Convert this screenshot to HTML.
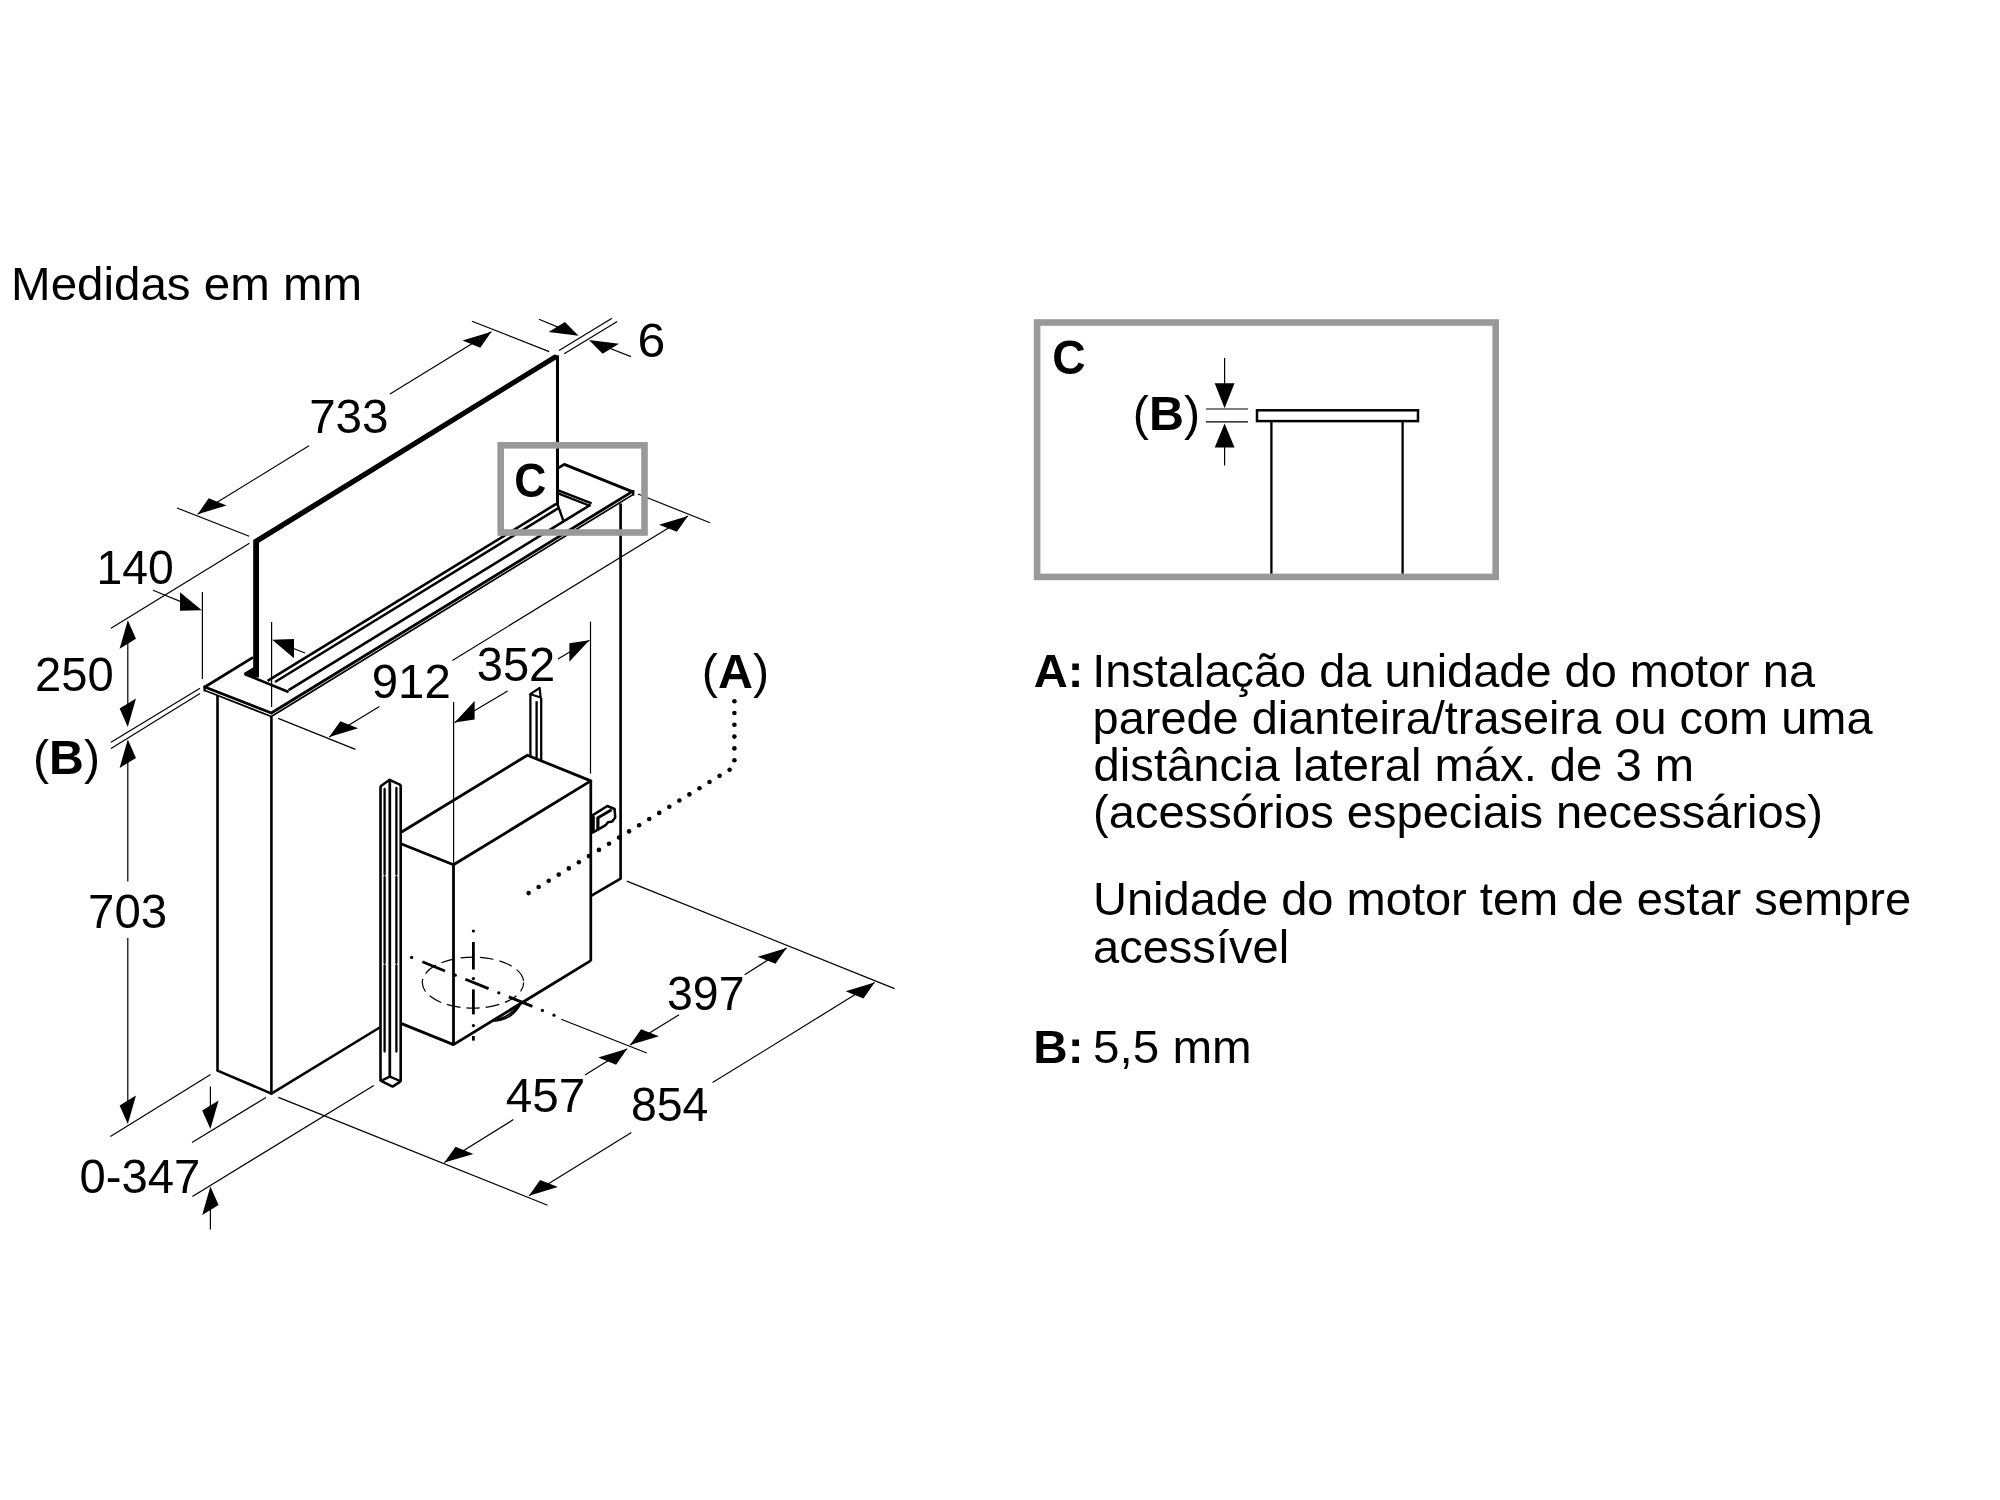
<!DOCTYPE html>
<html><head><meta charset="utf-8"><title>Medidas em mm</title>
<style>
html,body{margin:0;padding:0;background:#fff;}
body{width:2000px;height:1500px;overflow:hidden;font-family:"Liberation Sans",sans-serif;}
svg{display:block;position:absolute;left:0;top:0;}
svg{will-change:transform;}
</style></head><body>
<svg width="2000" height="1500" viewBox="0 0 2000 1500">
<rect x="0" y="0" width="2000" height="1500" fill="#fff"/>
<g stroke="#000" fill="none" stroke-linecap="butt" stroke-linejoin="round">
<path d="M253.2 677.6 L253.2 540 L554.4 354.4 L559 355.4 L559 505.4 L556 505.4 L556 359.4 L259 542.8 L259 677.6 Z" fill="#000" stroke="none"/>
<line x1="557.4" y1="504" x2="563.4" y2="520.8" stroke-width="2.4"/>
<path d="M557.6 468.4 L564.3 464.4 L632.2 491.6" stroke-width="2.8" fill="none"/>
<path d="M253 657.4 L204.8 687 L271.3 713.01 L632.2 491.6" stroke-width="2.8" fill="none"/>
<path d="M205 690.5 L271.3 716.51 L633.4 494.36" stroke-width="1.7" fill="none"/>
<line x1="204.6" y1="685.6" x2="204.6" y2="691.4" stroke-width="2.4"/>
<line x1="633.2" y1="490" x2="633.2" y2="495.6" stroke-width="2.4"/>
<line x1="244.5" y1="674" x2="288.6" y2="691.9" stroke-width="2.7"/>
<line x1="244.5" y1="674" x2="254" y2="668.2" stroke-width="2.4"/>
<polygon points="247,673.6 254,669 254,677.8" fill="#000" stroke="none"/>
<line x1="267.6" y1="680.93" x2="556.2" y2="503.87" stroke-width="2.6"/>
<line x1="275" y1="681.95" x2="558" y2="508.33" stroke-width="2.5"/>
<line x1="288.6" y1="690.03" x2="590.6" y2="504.76" stroke-width="2.6"/>
<line x1="558.2" y1="490.4" x2="591.6" y2="503.4" stroke-width="2.4"/>
<line x1="558.2" y1="493.4" x2="590.4" y2="506" stroke-width="2.4"/>
<line x1="217.5" y1="695.5" x2="217.5" y2="1071.6" stroke-width="2.6"/>
<line x1="271.4" y1="717" x2="271.4" y2="1094.5" stroke-width="2.6"/>
<line x1="620.6" y1="503.5" x2="620.6" y2="879.6" stroke-width="2.7"/>
<path d="M217.5 1070.6 L271.4 1093.6 L380.5 1027" stroke-width="2.6" fill="none"/>
<line x1="620.6" y1="878.6" x2="591.5" y2="895.6" stroke-width="2.5"/>
<path d="M401.6 832 L527.4 755.2 L590.8 780.9 L453.5 864.8 L401.6 844" stroke-width="2.8" fill="none"/>
<line x1="590.8" y1="780.5" x2="590.8" y2="961" stroke-width="2.7"/>
<line x1="453.5" y1="864.8" x2="453.5" y2="1044.8" stroke-width="2.8"/>
<path d="M401.6 1023.6 L453.5 1044.6 L590.8 960.6" stroke-width="2.8" fill="none"/>
<line x1="530.4" y1="694" x2="530.4" y2="756.6" stroke-width="2.3"/>
<line x1="541.2" y1="697.6" x2="541.2" y2="760.6" stroke-width="2.3"/>
<line x1="536.6" y1="701.2" x2="536.6" y2="759" stroke-width="2.3"/>
<path d="M529.8 694.4 L539.7 688 L540.6 697.4" stroke-width="2.2" fill="none"/>
<line x1="529.8" y1="694" x2="541.4" y2="697.8" stroke-width="2.2"/>
<line x1="380.5" y1="786.2" x2="380.5" y2="1081.2" stroke-width="2.6"/>
<line x1="400.7" y1="784.8" x2="400.7" y2="1081.8" stroke-width="2.6"/>
<line x1="389.8" y1="780" x2="389.8" y2="1076.6" stroke-width="2.7"/>
<path d="M380.3 786.6 L389.6 779.8 L400.9 785.2" stroke-width="2.5" fill="none"/>
<line x1="384.6" y1="789" x2="384.6" y2="874.5" stroke-width="2.3" stroke-linecap="round"/>
<line x1="384.6" y1="877" x2="384.6" y2="963" stroke-width="2.3" stroke-linecap="round"/>
<line x1="384.6" y1="965.5" x2="384.6" y2="1051.5" stroke-width="2.3" stroke-linecap="round"/>
<line x1="396.4" y1="788" x2="396.4" y2="874.5" stroke-width="2.3" stroke-linecap="round"/>
<line x1="396.4" y1="877" x2="396.4" y2="963" stroke-width="2.3" stroke-linecap="round"/>
<line x1="396.4" y1="965.5" x2="396.4" y2="1051.5" stroke-width="2.3" stroke-linecap="round"/>
<path d="M380.5 1080.6 L392.6 1086.6 L400.7 1081.4" stroke-width="2.5" fill="none"/>
<path d="M381.4 1080.6 L389.8 1076.6 L400.2 1081" stroke-width="2.3" fill="none"/>
<path d="M592 815.6 L607.4 806 L614.6 809 L615.2 817.4 L612.2 821.6 L608 822.2 L605.6 825.2 L598.4 829.4 L592 833" stroke-width="2.5" fill="none"/>
<line x1="597.6" y1="818" x2="611.6" y2="809.8" stroke-width="3.0"/>
<line x1="597.9" y1="817" x2="597.9" y2="829.6" stroke-width="3.2"/>
<polygon points="590.8,814.5 594.8,816.2 594.8,831.6 590.8,834.6" fill="#000" stroke="none"/>
<path d="M492.8 1021.2 Q511 1020.5 520 1005 M497 1019.4 Q510 1016.4 517.6 1006.4" stroke-width="1.8"/>
<line x1="473.4" y1="942" x2="473.4" y2="969.5" stroke-width="2.8"/>
<line x1="473.4" y1="989.4" x2="473.4" y2="1014.4" stroke-width="2.8"/>
<line x1="473.4" y1="1036" x2="473.4" y2="1040.6" stroke-width="2.8"/>
<circle cx="473.4" cy="931" r="1.6" fill="#000" stroke="none"/>
<circle cx="473.4" cy="978.6" r="1.6" fill="#000" stroke="none"/>
<circle cx="473.4" cy="1025.6" r="1.6" fill="#000" stroke="none"/>
<line x1="422.3" y1="961.8" x2="445" y2="970.99" stroke-width="2.8"/>
<line x1="465.4" y1="979.26" x2="488.6" y2="988.65" stroke-width="2.8"/>
<line x1="508.8" y1="996.83" x2="532.4" y2="1006.39" stroke-width="2.8"/>
<circle cx="411.6" cy="957.47" r="1.6" fill="#000" stroke="none"/>
<circle cx="455.3" cy="975.16" r="1.6" fill="#000" stroke="none"/>
<circle cx="498.8" cy="992.78" r="1.6" fill="#000" stroke="none"/>
<circle cx="542.4" cy="1010.44" r="1.6" fill="#000" stroke="none"/>
<circle cx="554" cy="1015.14" r="1.6" fill="#000" stroke="none"/>
<ellipse cx="473" cy="982.6" rx="50.7" ry="25.5" stroke-width="1.2" stroke-dasharray="13.5 6" stroke-dashoffset="4"/>
</g>
<g stroke="#000" fill="none">
<line x1="177" y1="508" x2="249.2" y2="536.2" stroke-width="1.2"/>
<line x1="472" y1="321.2" x2="549.2" y2="351.6" stroke-width="1.2"/>
<line x1="197.6" y1="514.2" x2="309" y2="445.86" stroke-width="1.2"/>
<line x1="390" y1="394.01" x2="491.4" y2="331.8" stroke-width="1.2"/>
<polygon points="197.6,514.2 226.54,505.49 208.72,498.33" fill="#000" stroke="none"/>
<polygon points="491.4,331.8 480.28,347.67 462.46,340.51" fill="#000" stroke="none"/>
<line x1="559" y1="350.6" x2="612" y2="318.2" stroke-width="1.2"/>
<line x1="564.2" y1="353.8" x2="617.2" y2="321.4" stroke-width="1.2"/>
<line x1="539" y1="319.2" x2="570" y2="332.1" stroke-width="1.2"/>
<polygon points="578.6,335.7 564.98,321.91 548.61,331.95" fill="#000" stroke="none"/>
<line x1="600" y1="344.5" x2="631" y2="356.6" stroke-width="1.2"/>
<polygon points="589,339.9 618.99,343.65 602.62,353.69" fill="#000" stroke="none"/>
<line x1="202.4" y1="592" x2="202.4" y2="679" stroke-width="1.2"/>
<line x1="271.6" y1="622" x2="271.6" y2="707" stroke-width="1.2"/>
<line x1="153" y1="590.2" x2="190" y2="605.4" stroke-width="1.2"/>
<polygon points="201.8,610.2 180,610.73 180,592.13" fill="#000" stroke="none"/>
<line x1="285" y1="645.2" x2="305" y2="653" stroke-width="1.2"/>
<polygon points="272.2,639.8 294,658.17 294,638.97" fill="#000" stroke="none"/>
<line x1="111" y1="628.2" x2="249.4" y2="543.2" stroke-width="1.2"/>
<line x1="127.8" y1="625" x2="127.8" y2="722" stroke-width="1.2"/>
<polygon points="127.8,620.2 135.98,638.68 119.62,648.72" fill="#000" stroke="none"/>
<polygon points="127.8,727 135.98,698.48 119.62,708.52" fill="#000" stroke="none"/>
<line x1="111" y1="742.2" x2="200" y2="688.2" stroke-width="1.2"/>
<line x1="111" y1="748.4" x2="200" y2="693.6" stroke-width="1.2"/>
<polygon points="127.8,739.4 135.98,757.88 119.62,767.92" fill="#000" stroke="none"/>
<line x1="127.8" y1="745" x2="127.8" y2="881.5" stroke-width="1.2"/>
<line x1="127.8" y1="938" x2="127.8" y2="1118" stroke-width="1.2"/>
<polygon points="127.8,1124 135.98,1095.48 119.62,1105.52" fill="#000" stroke="none"/>
<line x1="110.4" y1="1136.4" x2="210.6" y2="1074.4" stroke-width="1.2"/>
<line x1="210.4" y1="1086.6" x2="210.4" y2="1120" stroke-width="1.2"/>
<polygon points="210.4,1129 218.58,1100.48 202.22,1110.52" fill="#000" stroke="none"/>
<line x1="192" y1="1142.4" x2="266" y2="1097.4" stroke-width="1.2"/>
<line x1="192.4" y1="1196.4" x2="373.8" y2="1085.4" stroke-width="1.2"/>
<polygon points="210.4,1186.4 218.58,1204.88 202.22,1214.92" fill="#000" stroke="none"/>
<line x1="210.4" y1="1195" x2="210.4" y2="1229.6" stroke-width="1.2"/>
<line x1="278.4" y1="1097.4" x2="547.6" y2="1205.2" stroke-width="1.2"/>
<line x1="626.8" y1="881.1" x2="894.6" y2="988.6" stroke-width="1.2"/>
<line x1="278.2" y1="718.4" x2="355.4" y2="749.4" stroke-width="1.2"/>
<line x1="638" y1="494" x2="710" y2="522.8" stroke-width="1.2"/>
<line x1="329.2" y1="737" x2="379.4" y2="706.6" stroke-width="1.2"/>
<line x1="452.4" y1="660.4" x2="688" y2="516" stroke-width="1.2"/>
<polygon points="329.2,737 358.14,728.29 340.32,721.13" fill="#000" stroke="none"/>
<polygon points="688,516 676.88,531.87 659.06,524.71" fill="#000" stroke="none"/>
<line x1="453.6" y1="702" x2="453.6" y2="864" stroke-width="1.2"/>
<line x1="590.5" y1="621.6" x2="590.5" y2="773.6" stroke-width="1.2"/>
<line x1="454.6" y1="722.6" x2="507.6" y2="691" stroke-width="1.2"/>
<line x1="558" y1="659" x2="589.4" y2="640.2" stroke-width="1.2"/>
<polygon points="454.6,722.6 474.63,719.51 474.63,701.11" fill="#000" stroke="none"/>
<polygon points="589.4,640.2 569.37,661.69 569.37,643.29" fill="#000" stroke="none"/>
<line x1="529" y1="1195.8" x2="631.4" y2="1132.4" stroke-width="1.2"/>
<line x1="712.6" y1="1082.6" x2="874.6" y2="982.6" stroke-width="1.2"/>
<polygon points="529,1195.8 557.94,1187.09 540.12,1179.93" fill="#000" stroke="none"/>
<polygon points="874.6,982.6 863.48,998.47 845.66,991.31" fill="#000" stroke="none"/>
<line x1="444.4" y1="1162.6" x2="513.4" y2="1119.6" stroke-width="1.2"/>
<line x1="585" y1="1075" x2="627.2" y2="1048.8" stroke-width="1.2"/>
<polygon points="444.4,1162.6 473.34,1153.89 455.52,1146.73" fill="#000" stroke="none"/>
<polygon points="627.2,1048.8 616.08,1064.67 598.26,1057.51" fill="#000" stroke="none"/>
<line x1="630" y1="1045" x2="679" y2="1014.8" stroke-width="1.2"/>
<line x1="744.6" y1="974.8" x2="786.6" y2="948" stroke-width="1.2"/>
<polygon points="630,1045 658.94,1036.29 641.12,1029.13" fill="#000" stroke="none"/>
<polygon points="786.6,948 775.48,963.87 757.66,956.71" fill="#000" stroke="none"/>
<line x1="561.2" y1="1019.2" x2="646.8" y2="1053" stroke-width="1.2"/>
</g>
<g fill="#000">
<circle cx="734.4" cy="701.2" r="2.3"/>
<circle cx="734.4" cy="713" r="2.3"/>
<circle cx="734.4" cy="724.8" r="2.3"/>
<circle cx="734.4" cy="736.6" r="2.3"/>
<circle cx="734.4" cy="748.4" r="2.3"/>
<circle cx="734.4" cy="760.2" r="2.3"/>
<circle cx="729.6" cy="769.7" r="2.3"/>
<circle cx="719.55" cy="775.87" r="2.3"/>
<circle cx="709.5" cy="782.04" r="2.3"/>
<circle cx="699.45" cy="788.21" r="2.3"/>
<circle cx="689.4" cy="794.38" r="2.3"/>
<circle cx="679.35" cy="800.55" r="2.3"/>
<circle cx="669.3" cy="806.72" r="2.3"/>
<circle cx="659.25" cy="812.89" r="2.3"/>
<circle cx="649.2" cy="819.06" r="2.3"/>
<circle cx="639.15" cy="825.23" r="2.3"/>
<circle cx="629.1" cy="831.4" r="2.3"/>
<circle cx="619.05" cy="837.57" r="2.3"/>
<circle cx="609" cy="843.74" r="2.3"/>
<circle cx="598.95" cy="849.91" r="2.3"/>
<circle cx="588.9" cy="856.08" r="2.3"/>
<circle cx="578.85" cy="862.25" r="2.3"/>
<circle cx="568.8" cy="868.42" r="2.3"/>
<circle cx="558.75" cy="874.59" r="2.3"/>
<circle cx="548.7" cy="880.76" r="2.3"/>
<circle cx="538.65" cy="886.93" r="2.3"/>
<circle cx="528.6" cy="893.1" r="2.3"/>
</g>
<rect x="500.7" y="445.3" width="143.8" height="87.2" fill="none" stroke="#999" stroke-width="6.6"/>
<rect x="1037.1" y="322.5" width="458.6" height="254.4" fill="none" stroke="#999" stroke-width="6.6"/>
<g stroke="#000" fill="none">
<rect x="1257" y="410.3" width="161" height="10.8" stroke-width="2.5"/>
<line x1="1271.4" y1="421" x2="1271.4" y2="573.6" stroke-width="2.3"/>
<line x1="1402.6" y1="421" x2="1402.6" y2="573.6" stroke-width="2.3"/>
<line x1="1206" y1="409" x2="1248" y2="409" stroke-width="1.2"/>
<line x1="1206" y1="421.8" x2="1248" y2="421.8" stroke-width="1.2"/>
<line x1="1224.6" y1="358" x2="1224.6" y2="390" stroke-width="1.2"/>
<line x1="1224.6" y1="440" x2="1224.6" y2="465.6" stroke-width="1.2"/>
<polygon points="1224.6,408.2 1214.7,383.2 1234.5,383.2" fill="#000" stroke="none"/>
<polygon points="1224.6,423.4 1214.7,447.4 1234.5,447.4" fill="#000" stroke="none"/>
</g>
<g fill="#000" font-family="'Liberation Sans', sans-serif">
<text x="11.09" y="300" font-size="47" textLength="351.05" lengthAdjust="spacingAndGlyphs">Medidas em mm</text>
<text x="309.17" y="433.4" font-size="48" textLength="79.32" lengthAdjust="spacingAndGlyphs">733</text>
<text x="637.44" y="357" font-size="48" textLength="27.81" lengthAdjust="spacingAndGlyphs">6</text>
<text x="514.22" y="496.5" font-size="48" textLength="32.05" lengthAdjust="spacingAndGlyphs" font-weight="bold">C</text>
<text x="96.5" y="583.6" font-size="48" textLength="77.22" lengthAdjust="spacingAndGlyphs">140</text>
<text x="35.09" y="690.5" font-size="48" textLength="78.67" lengthAdjust="spacingAndGlyphs">250</text>
<text x="88.08" y="927.5" font-size="48" textLength="79" lengthAdjust="spacingAndGlyphs">703</text>
<text x="79.61" y="1192.5" font-size="48" textLength="120.69" lengthAdjust="spacingAndGlyphs">0-347</text>
<text x="371.79" y="697.5" font-size="48" textLength="79" lengthAdjust="spacingAndGlyphs">912</text>
<text x="476.72" y="681.2" font-size="48" textLength="78.56" lengthAdjust="spacingAndGlyphs">352</text>
<text x="667.05" y="1010.3" font-size="48" textLength="77.4" lengthAdjust="spacingAndGlyphs">397</text>
<text x="505.84" y="1112.1" font-size="48" textLength="79.47" lengthAdjust="spacingAndGlyphs">457</text>
<text x="630.94" y="1121.3" font-size="48" textLength="77.48" lengthAdjust="spacingAndGlyphs">854</text>
<text x="1052.15" y="373.6" font-size="48" textLength="33.38" lengthAdjust="spacingAndGlyphs" font-weight="bold">C</text>
<text x="1092.22" y="687.2" font-size="47" textLength="722.78" lengthAdjust="spacingAndGlyphs">Instalação da unidade do motor na</text>
<text x="1092.58" y="734" font-size="47" textLength="779.93" lengthAdjust="spacingAndGlyphs">parede dianteira/traseira ou com uma</text>
<text x="1093.61" y="781" font-size="47" textLength="600.5" lengthAdjust="spacingAndGlyphs">distância lateral máx. de 3 m</text>
<text x="1093.07" y="828" font-size="47" textLength="729.84" lengthAdjust="spacingAndGlyphs">(acessórios especiais necessários)</text>
<text x="1092.94" y="915.4" font-size="47" textLength="818.14" lengthAdjust="spacingAndGlyphs">Unidade do motor tem de estar sempre</text>
<text x="1093.01" y="962.5" font-size="47" textLength="196.1" lengthAdjust="spacingAndGlyphs">acessível</text>
<text x="1093.1" y="1062.5" font-size="47" textLength="158.61" lengthAdjust="spacingAndGlyphs">5,5 mm</text>
<text x="1033.85" y="687.2" font-size="47" textLength="49.63" lengthAdjust="spacingAndGlyphs" font-weight="bold">A:</text>
<text x="1033.33" y="1062.5" font-size="47" textLength="50.2" lengthAdjust="spacingAndGlyphs" font-weight="bold">B:</text>
<text x="33" y="773.5" font-size="48" textLength="66.99" lengthAdjust="spacingAndGlyphs">(<tspan font-weight="bold">B</tspan>)</text>
<text x="701.79" y="687.8" font-size="48" textLength="67.21" lengthAdjust="spacingAndGlyphs">(<tspan font-weight="bold">A</tspan>)</text>
<text x="1132.79" y="430" font-size="48" textLength="67.21" lengthAdjust="spacingAndGlyphs">(<tspan font-weight="bold">B</tspan>)</text>
</g>
</svg>
</body></html>
